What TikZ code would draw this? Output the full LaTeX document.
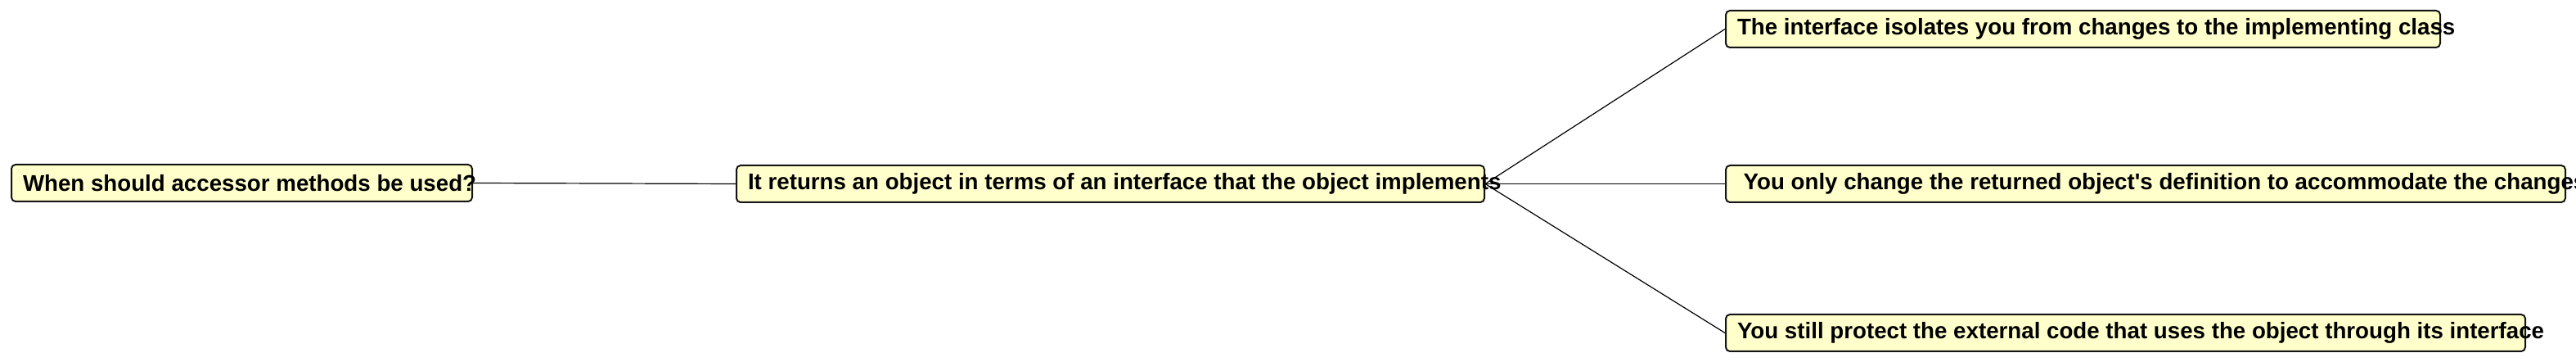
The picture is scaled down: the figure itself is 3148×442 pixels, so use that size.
\documentclass[tikz,border=0pt]{standalone}
\usepackage{fontspec}
\setmainfont{Liberation Sans}
\usetikzlibrary{positioning}
\definecolor{CY}{RGB}{255,255,204}
\definecolor{DG}{RGB}{20,20,20}
\newcommand{\fixw}[2]{\makebox[#1][l]{#2}}

\begin{document}
\begin{tikzpicture}[x=0.5pt, y=-0.5pt,
  idea/.style={draw=DG, fill=CY, rounded corners=2.5pt, line width=1pt,
               inner xsep=7pt, inner ysep=0pt, minimum height=22.5pt,
               anchor=west, font=\fontsize{13.85}{16}\selectfont\bfseries},
  link/.style={draw=black, line width=0.6pt}
]
\useasboundingbox (0,0) rectangle (3148,442);

% Question
\node[idea] (q) at (13,223.5) {\fixw{267.5pt}{When should accessor methods be used?}};

% Answer
\node[idea] (ans) at (899,224.5)
  {\fixw{443pt}{It returns an object in terms of an interface that the object implements}};

% Reasons
\node[idea] (r1) at (2108,35.5)
  {\fixw{422.5pt}{The interface isolates you from changes to the implementing class}};
\node[idea] (r2) at (2108,224.5)
  {\fixw{499pt}{\ You only change the returned object\textquotesingle s definition to accommodate the changes}};
\node[idea] (r3) at (2108,406.5)
  {\fixw{474.5pt}{You still protect the external code that uses the object through its interface}};

% Links
\draw[link] (q.east) -- (ans.west);
\foreach \r in {r1, r2, r3} {
  \draw[link] (ans.east) -- (\r.west);
}
\end{tikzpicture}
\end{document}
